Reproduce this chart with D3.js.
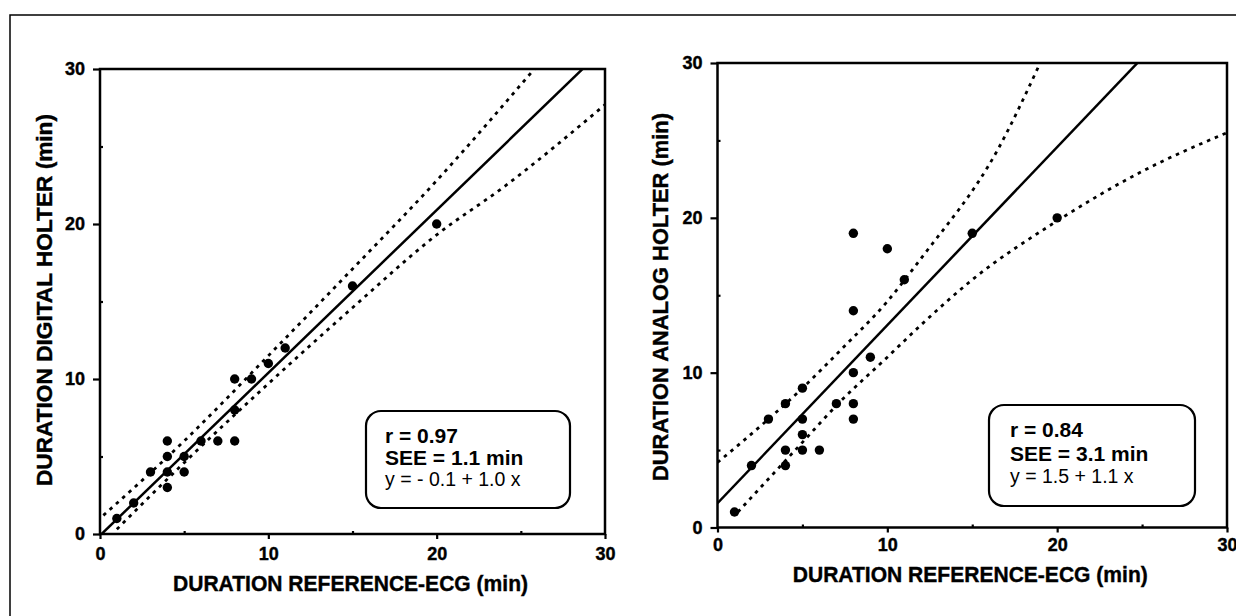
<!DOCTYPE html>
<html>
<head>
<meta charset="utf-8">
<script src="https://cdn.jsdelivr.net/npm/d3@7"></script>
<style>
    body { margin: 0; background: #fff; }
    svg { font-family: 'Liberation Sans', Arial, Helvetica, sans-serif; }
    .tick text { font-size: 18px; font-weight: bold; fill: #000; stroke: #000; stroke-width: 0.4; }
</style>
</head>
<body>
<svg id="chart" width="1236" height="616"></svg>
<script>
// durations in minutes: reference ECG (x) against holter recording (y)
var refDigital = [1, 2, 3, 4, 4, 4, 4, 5, 5, 6, 7, 8, 8, 8, 9, 10, 11, 15, 20];
var digital    = [1, 2, 4, 6, 5, 4, 3, 5, 4, 6, 6, 6, 8, 10, 10, 11, 12, 16, 20];

var refAnalog = [1, 2, 3, 4, 4, 4, 5, 5, 5, 5, 6, 7, 8, 8, 8, 8, 8, 9, 10, 11, 15, 20];
var analog    = [1, 4, 7, 8, 5, 4, 9, 7, 6, 5, 5, 8, 19, 14, 10, 8, 7, 11, 18, 16, 19, 20];

// regression lines [intercept, slope] as drawn
var fitDigital = [-0.1, 1.05];
var fitAnalog = [1.57, 1.15];

// dotted confidence curves
var digitalUpper = [[0.2, 1.2], [5, 6.0], [10, 11.5], [15, 17.1], [20, 22.8], [25.8, 30]];
var digitalLower = [[1, 0.3], [5, 4.6], [10, 9.7], [15, 14.6], [20, 19.3], [24, 22.4], [30, 27.7]];
var analogUpper = [[0, 4.2], [3, 7.0], [5, 9.0], [7.2, 11.4], [10, 14.6], [12, 17.4], [16.5, 24.4], [19.0, 30]];
var analogLower = [[1.2, 1.0], [5, 5.5], [7.2, 8.1], [10, 11.0], [12, 13.1], [15, 16.0], [20, 19.8], [25, 23.0], [30, 25.5]];

var statsDigital = ['r = 0.97', 'SEE = 1.1 min', 'y = - 0.1 + 1.0 x'];
var statsAnalog = ['r = 0.84', 'SEE = 3.1 min', 'y = 1.5 + 1.1 x'];

var majorTicks = [0, 10, 20, 30];
var minorTicks = [5, 15, 25];
var xTitle = 'DURATION REFERENCE-ECG (min)';

var svg = d3.select('#chart');

// scan border (top + left only visible)
svg.append('path')
    .attr('d', 'M10,616V15H1236')
    .attr('fill', 'none')
    .attr('stroke', '#000')
    .attr('stroke-width', 1.5);

function panel(o) {
    var x = d3.scaleLinear().domain([0, 30]).range([o.left, o.right]);
    var y = d3.scaleLinear().domain([0, 30]).range([o.bottom, o.top]);
    var g = svg.append('g');

    g.append('clipPath')
        .attr('id', o.id)
        .append('rect')
        .attr('x', o.left).attr('y', o.top)
        .attr('width', o.right - o.left).attr('height', o.bottom - o.top);

    // minor ticks point inwards
    g.append('g')
        .attr('transform', 'translate(0,' + o.bottom + ')')
        .call(d3.axisBottom(x).tickValues(minorTicks).tickSize(-3).tickFormat(''))
        .call(function(a) { a.select('.domain').remove(); });
    g.append('g')
        .attr('transform', 'translate(' + o.left + ',0)')
        .call(d3.axisLeft(y).tickValues(minorTicks).tickSize(-3).tickFormat(''))
        .call(function(a) { a.select('.domain').remove(); });

    var xa = g.append('g')
        .attr('transform', 'translate(0,' + o.bottom + ')')
        .call(d3.axisBottom(x).tickValues(majorTicks).tickSize(5).tickPadding(o.xPad));
    xa.select('.domain').remove();

    var ya = g.append('g')
        .attr('transform', 'translate(' + o.left + ',0)')
        .call(d3.axisLeft(y).tickValues(majorTicks).tickSize(7).tickPadding(8));
    ya.select('.domain').remove();

    g.selectAll('.tick line').attr('stroke', '#000').attr('stroke-width', 2.2);

    // frame
    g.append('rect')
        .attr('x', o.left).attr('y', o.top)
        .attr('width', o.right - o.left).attr('height', o.bottom - o.top)
        .attr('fill', 'none')
        .attr('stroke', '#000')
        .attr('stroke-width', 2.5);

    var plot = g.append('g').attr('clip-path', 'url(#' + o.id + ')');

    var curve = d3.line()
        .x(function(d) { return x(d[0]); })
        .y(function(d) { return y(d[1]); })
        .curve(d3.curveMonotoneX);

    [o.upper, o.lower].forEach(function(band) {
        plot.append('path')
            .attr('d', curve(band))
            .attr('fill', 'none')
            .attr('stroke', '#000')
            .attr('stroke-width', 2.8)
            .attr('stroke-dasharray', '3.5,5');
    });

    plot.append('line')
        .attr('x1', x(0)).attr('y1', y(o.fit[0]))
        .attr('x2', x(30)).attr('y2', y(o.fit[0] + o.fit[1] * 30))
        .attr('stroke', '#000')
        .attr('stroke-width', 2.5);

    plot.selectAll('circle')
        .data(o.xs)
        .enter().append('circle')
        .attr('cx', function(d) { return x(d); })
        .attr('cy', function(d, i) { return y(o.ys[i]); })
        .attr('r', 4.7)
        .attr('fill', '#000');

    // stats box
    g.append('rect')
        .attr('x', o.box[0]).attr('y', o.box[1])
        .attr('width', o.box[2]).attr('height', o.box[3])
        .attr('rx', 15).attr('ry', 15)
        .attr('fill', '#fff')
        .attr('stroke', '#000')
        .attr('stroke-width', 2.2);

    g.selectAll('text.stat')
        .data(o.stats)
        .enter().append('text')
        .attr('class', 'stat')
        .attr('x', o.textX)
        .attr('y', function(d, i) { return o.lines[i]; })
        .attr('font-size', function(d, i) { return i < 2 ? 21 : 19.5; })
        .attr('font-weight', function(d, i) { return i < 2 ? 'bold' : 'normal'; })
        .text(function(d) { return d; });

    g.append('text')
        .attr('x', (o.left + o.right) / 2 - 2)
        .attr('y', o.xTitleY)
        .attr('text-anchor', 'middle')
        .attr('font-size', 22)
        .attr('font-weight', 'bold')
        .attr('stroke', '#000')
        .attr('stroke-width', 0.4)
        .attr('textLength', 355)
        .attr('lengthAdjust', 'spacingAndGlyphs')
        .text(xTitle);

    g.append('text')
        .attr('transform', 'translate(' + o.yTitleX + ',' + o.yTitleY + ') rotate(-90)')
        .attr('text-anchor', 'middle')
        .attr('font-size', 22)
        .attr('font-weight', 'bold')
        .attr('stroke', '#000')
        .attr('stroke-width', 0.4)
        .attr('textLength', o.yTitleLen)
        .attr('lengthAdjust', 'spacingAndGlyphs')
        .text(o.yTitle);
}

panel({
    id: 'clipDigital',
    left: 100, right: 605, top: 69, bottom: 534,
    xPad: 8,
    xs: refDigital, ys: digital, fit: fitDigital,
    upper: digitalUpper, lower: digitalLower,
    stats: statsDigital,
    box: [366, 411, 204, 97], textX: 385, lines: [443, 465, 486],
    xTitleY: 591,
    yTitle: 'DURATION DIGITAL HOLTER (min)', yTitleX: 52, yTitleY: 300, yTitleLen: 372
});

panel({
    id: 'clipAnalog',
    left: 717.5, right: 1227, top: 63, bottom: 527.5,
    xPad: 6,
    xs: refAnalog, ys: analog, fit: fitAnalog,
    upper: analogUpper, lower: analogLower,
    stats: statsAnalog,
    box: [989, 405, 206, 101], textX: 1010, lines: [437, 461, 483],
    xTitleY: 582,
    yTitle: 'DURATION ANALOG HOLTER (min)', yTitleX: 668, yTitleY: 297, yTitleLen: 368
});
</script>
</body>
</html>
